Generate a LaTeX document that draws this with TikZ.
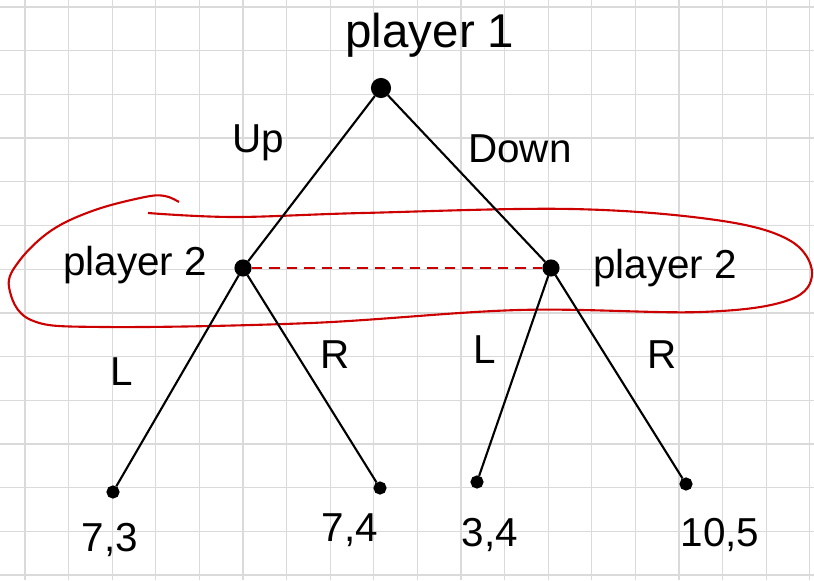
\documentclass[tikz,border=0pt]{standalone}
\usepackage{fontspec}
\setmainfont{Liberation Sans}
\usepackage{tikz}
\definecolor{GridGray}{HTML}{DADADA}
\definecolor{InfoRed}{HTML}{CC0000}
\tikzset{
  decision/.style={circle,draw=black,fill=black,line width=1.2pt,inner sep=0pt,minimum size=0.30cm},
  outcome/.style={circle,draw=black,fill=black,line width=1.2pt,inner sep=0pt,minimum size=0.22cm},
  branch/.style={black,line width=1.2pt},
  hand/.style={font=\fontsize{23}{25}\selectfont},
}

\begin{document}
\begin{tikzpicture}[x=1cm,y=1cm]
\path[use as bounding box] (0,0) rectangle (16.28,11.60);
% squared paper
\foreach \k in {0,...,18}
  \draw[GridGray,line width=0.7pt] ({0.50+0.872*\k},0) -- ({0.50+0.872*\k},11.60);
\foreach \k in {0,...,13}
  \draw[GridGray,line width=0.7pt] (0,{11.46-0.874*\k}) -- (16.28,{11.46-0.874*\k});
% information set
\draw[InfoRed,line width=1.2pt] plot[smooth,tension=0.6] coordinates {
  (3.58,7.56) (3.30,7.68) (2.90,7.66) (1.90,7.40) (1.04,7.00) (0.40,6.40) (0.18,5.86)
  (0.62,5.20) (2.08,5.06) (6.22,5.14) (10.38,5.40) (14.02,5.36) (15.78,5.60)
  (16.24,6.14) (15.78,6.80) (14.32,7.20) (11.42,7.42) (7.26,7.34) (4.68,7.26) (2.96,7.34)};
% nodes
\node[decision,minimum size=0.36cm] (root) at (7.62,9.84) {};
\node[decision] (p2up) at (4.86,6.24) {};
\node[decision] (p2down) at (11.02,6.24) {};
\node[outcome] (upL) at (2.26,1.76) {};
\node[outcome] (upR) at (7.60,1.84) {};
\node[outcome] (downL) at (9.54,1.96) {};
\node[outcome] (downR) at (13.72,1.92) {};
% branches
\draw[branch] (root) -- (p2up);
\draw[branch] (root) -- (p2down);
\draw[branch] (p2up) -- (upL);
\draw[branch] (p2up) -- (upR);
\draw[branch] (p2down) -- (downL);
\draw[branch] (p2down) -- (downR);
\draw[InfoRed,line width=0.9pt,dash pattern=on 6pt off 4pt] (p2up) -- (p2down);
% labels
\node[hand,font=\fontsize{27}{29}\selectfont] (lblroot) at (8.60,10.90) {player 1};
\node[hand] (lblup) at (5.16,8.74) {Up};
\node[hand] (lbldown) at (10.40,8.62) {Down};
\node[hand] (lblp2up) at (2.70,6.30) {player 2};
\node[hand] (lblp2down) at (13.30,6.24) {player 2};
\node[hand] (lblupL) at (2.44,4.16) {L};
\node[hand] (lblupR) at (6.70,4.50) {R};
\node[hand] (lbldownL) at (9.70,4.60) {L};
\node[hand] (lbldownR) at (13.24,4.50) {R};
\node[hand] (payA) at (2.20,0.80) {7,3};
\node[hand] (payB) at (7.00,1.00) {7,4};
\node[hand] (payC) at (9.80,0.90) {3,4};
\node[hand] (payD) at (14.40,0.90) {10,5};
\end{tikzpicture}
\end{document}
